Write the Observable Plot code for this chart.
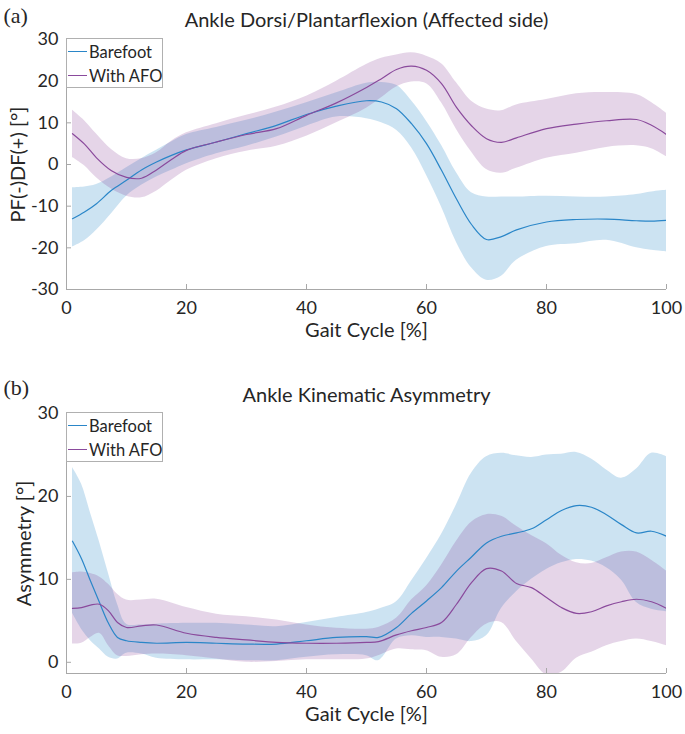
<!DOCTYPE html>
<html><head><meta charset="utf-8">
<script src="https://cdn.jsdelivr.net/npm/d3@7"></script>
<script src="https://cdn.jsdelivr.net/npm/@observablehq/plot@0.6"></script>
<style>
body{margin:0;background:#fff;font-family:Lato,sans-serif;}
#wrap{width:685px;}
.panel{position:relative;width:685px;}
.panel svg{display:block;}
.panel svg [aria-label$="tick label"]{fill:#262626;}
.legend{position:absolute;background:#fff;border:1px solid #b0b0b0;box-sizing:border-box;font-size:16.5px;color:#262626;font-family:Lato,sans-serif;white-space:nowrap;}
.legend .row{position:absolute;left:1px;height:20px;display:flex;align-items:center;white-space:nowrap;}
.legend .sw{display:inline-block;width:19px;height:1.3px;margin-right:2px;}
</style></head><body><div id="wrap"></div>
<script>
// ---------- Panel (a): Ankle Dorsi/Plantarflexion ----------
const aX       = [1, 3, 5, 7.5, 10, 12.5, 15, 17.5, 20, 25, 30, 35, 40, 45, 50, 52.5, 55, 57.5, 60, 62.5, 65, 67.5, 70, 72.5, 75, 80, 85, 90, 95, 97.5, 100];
const aBare    = [-13, -11.4, -9.4, -6.2, -3.8, -1.3, 0.6, 2.2, 3.5, 5.4, 7.4, 9.4, 12, 14, 15.3, 15.0, 13.4, 9.8, 5, -1.4, -8.3, -14.4, -18, -17.3, -15.7, -13.8, -13.2, -13.1, -13.5, -13.6, -13.4];
const aBareLo  = [-19.8, -18.3, -15.8, -11.8, -7.6, -5, -3, -1.4, 0.2, 2.6, 4.4, 6.6, 9.2, 11.4, 11, 10, 8.2, 4, -2.6, -10.2, -18.7, -24.8, -27.8, -26.8, -23, -19.7, -19, -18.2, -20, -20.6, -21];
const aBareHi  = [-5.6, -5.4, -4.8, -3, -0.8, 1.4, 3.4, 5.4, 7.2, 8.9, 10.6, 12.6, 14.8, 17.2, 19.5, 19.7, 19, 15.3, 10.4, 4.6, -2, -6.8, -7.8, -7.8, -7.8, -7.6, -7.8, -7.8, -7.2, -6.6, -6.2];
const aAfo     = [7.4, 4.9, 1.6, -1.5, -3.1, -3.3, -1.3, 1.2, 3.4, 5.4, 7.2, 8.6, 11.8, 14.8, 18.5, 20.6, 22.8, 23.6, 22.6, 19.4, 13.7, 9.3, 6.2, 5.3, 6.4, 8.6, 9.7, 10.5, 10.8, 9.4, 7.2];
const aAfoLo   = [1.7, -0.3, -3.2, -5.9, -7.6, -8, -6.4, -3.8, -1.4, 1.4, 3.2, 4.4, 6.8, 10, 13.5, 16, 18.6, 19.8, 19.4, 14.8, 8.4, 3, -1.2, -2.1, -0.9, 1.5, 2.7, 4.1, 4.5, 3.8, 1.9];
const aAfoHi   = [13, 10.5, 7.3, 3.6, 1.4, 1.4, 2.8, 5.6, 7.6, 9.8, 11.8, 13.8, 16.4, 20, 24, 25.5, 26.3, 26.8, 26, 24.2, 19.6, 15.2, 13.3, 12.9, 14.3, 15.6, 17, 17.3, 16.8, 14.9, 12.3];

// ---------- Panel (b): Ankle Kinematic Asymmetry ----------
const bX       = [1, 2.5, 4, 5.5, 7, 8.5, 10, 12.5, 15, 20, 25, 30, 35, 40, 45, 50, 52, 55, 57.5, 60, 62.5, 65, 67.5, 70, 72.5, 75, 77.5, 80, 82.5, 85, 87.5, 90, 92.5, 95, 97.5, 100];
const bBare    = [14.6, 12.5, 9.8, 7.2, 4.7, 3.0, 2.6, 2.4, 2.3, 2.4, 2.3, 2.2, 2.2, 2.6, 3.0, 3.1, 3.0, 4.2, 5.9, 7.4, 9.0, 11.0, 12.7, 14.4, 15.2, 15.6, 16.1, 17.2, 18.3, 18.9, 18.7, 17.8, 16.6, 15.6, 15.8, 15.2];
const bBareLo  = [5.9, 4.0, 2.6, 1.6, 0.6, 0.4, 1.1, 1.0, 0.5, 0.3, 0.3, 0.2, 0.2, 0.6, 0.9, 0.8, 0.2, 2.8, 3.2, 3.0, 3.0, 2.8, 2.5, 3.2, 6.5, 8.5, 10.0, 11.2, 12.0, 12.4, 12.2, 11.4, 9.9, 7.2, 6.4, 6.1];
const bBareHi  = [23.5, 21.5, 18.0, 14.5, 10.7, 7.0, 4.6, 4.5, 4.6, 4.7, 4.7, 4.5, 4.3, 4.8, 5.4, 6.0, 6.4, 7.3, 9.8, 12.5, 15.4, 19.0, 22.8, 24.8, 25.2, 24.9, 24.7, 25.0, 25.1, 25.3, 24.5, 23.2, 22.2, 23.3, 25.2, 24.8];
const bAfo     = [6.5, 6.6, 6.9, 7.0, 6.2, 4.8, 4.2, 4.4, 4.5, 3.5, 3.0, 2.7, 2.4, 2.3, 2.3, 2.4, 2.5, 3.3, 3.8, 4.2, 4.8, 7.0, 9.6, 11.3, 11.0, 9.5, 9.0, 7.8, 6.6, 5.9, 6.1, 6.8, 7.3, 7.6, 7.3, 6.5];
const bAfoLo   = [2.2, 2.3, 3.0, 3.5, 2.0, 0.8, 0.7, 0.9, 1.0, 0.8, 0.4, 0.0, 0.1, 0.3, 0.3, 0.4, 0.8, 1.6, 1.5, 1.4, 0.6, 0.9, 3.0, 4.6, 4.8, 2.5, 0.4, -1.5, -1.2, 0.5, 1.2, 2.0, 2.5, 2.8, 2.5, 2.0];
const bAfoHi   = [10.8, 10.9, 10.7, 10.3, 9.4, 8.2, 7.5, 7.5, 7.6, 6.6, 5.8, 5.5, 5.1, 4.5, 4.1, 4.0, 4.2, 5.3, 7.5, 9.2, 11.7, 14.6, 16.9, 17.8, 17.6, 16.4, 15.3, 14.3, 12.9, 12.0, 11.9, 12.6, 13.3, 13.3, 12.3, 11.0];

const xDomain = [0, 100];
const xTicks  = [0, 20, 40, 60, 80, 100];
const aYDomain = [-30, 30];
const aYTicks  = [-30, -20, -10, 0, 10, 20, 30];
const bYDomain = [-1.35, 30];
const bYTicks  = [0, 10, 20, 30];
const seriesNames = ["Barefoot", "With AFO"];
const xLabel = "Gait Cycle [%]";

const BLUE = "#0072BD", BLUE_LINE = "#2a86c8";
const PURPLE = "#7E2F8E", PURPLE_LINE = "#8a4a9c";
const AXIS = "#a8a8a8";
const INK = "#262626";

function panel(o) {
  const rows = o.x.map((v, i) => ({x: v, bm: o.bare[i], bl: o.bareLo[i], bh: o.bareHi[i], am: o.afo[i], al: o.afoLo[i], ah: o.afoHi[i]}));
  const curve = "catmull-rom";
  const plot = Plot.plot({
    width: 685, height: o.height,
    marginLeft: 66, marginRight: 19, marginTop: o.marginTop, marginBottom: o.marginBottom,
    style: {fontFamily: "Lato, sans-serif", fontSize: "18px", color: INK, background: "#fff"},
    x: {domain: xDomain},
    y: {domain: o.yDomain},
    marks: [
      Plot.areaY(rows, {x: "x", y1: "bl", y2: "bh", fill: BLUE, fillOpacity: 0.2, curve, clip: true}),
      Plot.areaY(rows, {x: "x", y1: "al", y2: "ah", fill: PURPLE, fillOpacity: 0.2, curve, clip: true}),
      Plot.lineY(rows, {x: "x", y: "bm", stroke: BLUE_LINE, strokeWidth: 1.2, curve, clip: true}),
      Plot.lineY(rows, {x: "x", y: "am", stroke: PURPLE_LINE, strokeWidth: 1.2, curve, clip: true}),
      Plot.ruleY([o.yDomain[0]], {stroke: AXIS}),
      Plot.ruleX([xDomain[0]], {stroke: AXIS}),
      Plot.axisX({ticks: xTicks, tickSize: -5, tickPadding: 17, tickFormat: d => d, label: null, stroke: AXIS, fontSize: 18}),
      Plot.axisY({ticks: o.yTicks, tickSize: -5, tickPadding: 13, tickFormat: d => d, label: null, stroke: AXIS, fontSize: 18}),
      Plot.text([o.title], {frameAnchor: "top", lineAnchor: "middle", textAnchor: "middle", dy: o.titleDy, fontSize: 20, fill: INK}),
      Plot.text([o.tag], {frameAnchor: "top-left", lineAnchor: "middle", textAnchor: "start", dx: -63, dy: o.tagDy, fontSize: 22, fontFamily: "Liberation Serif, serif", fill: INK}),
      Plot.text([o.ylabel], {frameAnchor: "left", lineAnchor: "middle", textAnchor: "middle", rotate: -90, dx: o.ylabelDx, fontSize: 20, fill: INK}),
      Plot.text([xLabel], {frameAnchor: "bottom", lineAnchor: "middle", textAnchor: "middle", dy: 41, fontSize: 20, fill: INK})
    ]
  });
  const div = document.createElement("div");
  div.className = "panel";
  div.appendChild(plot);
  const lg = document.createElement("div");
  lg.className = "legend";
  lg.style.left = "66px"; lg.style.top = (o.marginTop - 1.5) + "px";
  lg.style.width = "97px"; lg.style.height = "50px";
  [[seriesNames[0], BLUE_LINE, 3], [seriesNames[1], PURPLE_LINE, 27]].forEach(([name, c, t]) => {
    const r = document.createElement("div");
    r.className = "row"; r.style.top = t + "px";
    const sw = document.createElement("span"); sw.className = "sw"; sw.style.background = c;
    const tx = document.createElement("span"); tx.textContent = name;
    r.appendChild(sw); r.appendChild(tx); lg.appendChild(r);
  });
  div.appendChild(lg);
  return div;
}

const wrap = document.getElementById("wrap");
wrap.appendChild(panel({
  x: aX, bare: aBare, bareLo: aBareLo, bareHi: aBareHi, afo: aAfo, afoLo: aAfoLo, afoHi: aAfoHi,
  yDomain: aYDomain, yTicks: aYTicks, height: 345, marginTop: 39, marginBottom: 56,
  titleDy: -19, tagDy: -24, ylabelDx: -48,
  title: "Ankle Dorsi/Plantarflexion (Affected side)", tag: "(a)", ylabel: "PF(-)DF(+) [°]"
}));
wrap.appendChild(panel({
  x: bX, bare: bBare, bareLo: bBareLo, bareHi: bBareHi, afo: bAfo, afoLo: bAfoLo, afoHi: bAfoHi,
  yDomain: bYDomain, yTicks: bYTicks, height: 389, marginTop: 68, marginBottom: 61,
  titleDy: -18, tagDy: -26, ylabelDx: -42,
  title: "Ankle Kinematic Asymmetry", tag: "(b)", ylabel: "Asymmetry [°]"
}));
</script></body></html>
